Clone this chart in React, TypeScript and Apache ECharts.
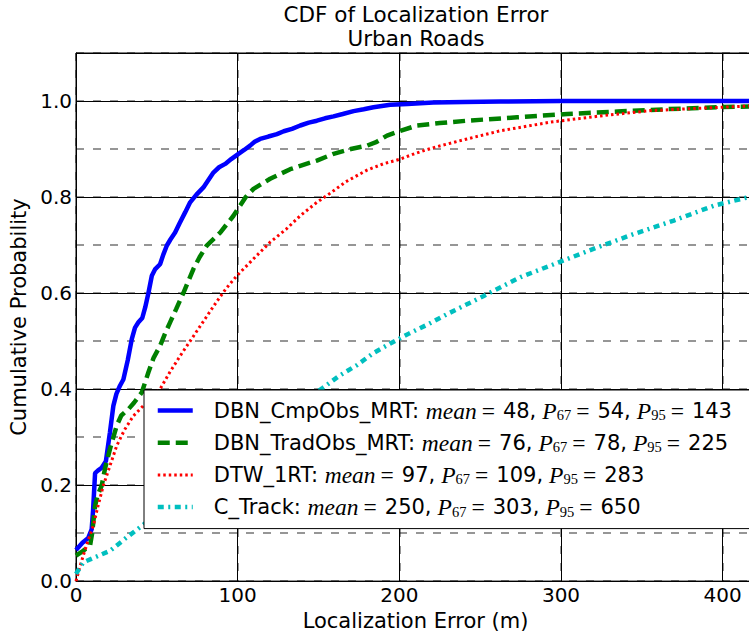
import React, { useEffect, useRef } from "react";
import * as echarts from "echarts";

// Summary statistics shown in the legend (metres)
const seriesNames = ["DBN_CmpObs_MRT", "DBN_TradObs_MRT", "DTW_1RT", "C_Track"];
const meanErr = [48, 76, 97, 250];
const p67Err = [54, 78, 109, 303];
const p95Err = [143, 225, 283, 650];

const xTickLabels = [0, 100, 200, 300, 400];
const yTickLabels = [0, 0.2, 0.4, 0.6, 0.8, 1.0];

// Empirical CDF samples: [error (m), cumulative probability]
const cmpObsMrt: [number, number][] = [
  [0, 0.065], [4, 0.08], [7.6, 0.09], [9.7, 0.108], [10.6, 0.15], [11.8, 0.225],
  [13.5, 0.23], [15.9, 0.236], [18.5, 0.25], [21, 0.31], [23.1, 0.365], [25, 0.39],
  [27.2, 0.407], [29.3, 0.42], [32, 0.46], [34.5, 0.504], [36.5, 0.528], [38.6, 0.539],
  [41, 0.548], [42.8, 0.57], [44.8, 0.6], [46.9, 0.636], [49, 0.65], [52, 0.66],
  [54, 0.68], [56.2, 0.699], [58.5, 0.712], [61.3, 0.726], [64, 0.745], [67.5, 0.768],
  [70.6, 0.789], [74.5, 0.805], [78.8, 0.82], [82, 0.836], [85, 0.851], [88.5, 0.862],
  [92.3, 0.869], [96, 0.879], [100.5, 0.89], [104, 0.898], [107.7, 0.907], [110.5, 0.915],
  [113.9, 0.921], [119, 0.926], [124.3, 0.931], [128.5, 0.937], [133.6, 0.942], [138.7, 0.949],
  [144, 0.955], [149, 0.959], [154, 0.964], [159.3, 0.968], [165, 0.973], [171.7, 0.979],
  [178, 0.983], [184, 0.987], [194.4, 0.992], [205, 0.994], [221, 0.997], [240, 0.998],
  [262.5, 0.999], [300, 1.0], [420, 1.0],
];

const tradObsMrt: [number, number][] = [
  [0, 0.053], [4, 0.062], [8.7, 0.074], [10, 0.1], [11.8, 0.157], [13.5, 0.18],
  [15.9, 0.199], [18, 0.235], [21, 0.275], [25.2, 0.324], [28, 0.345], [32.4, 0.358],
  [36, 0.372], [40.7, 0.393], [44.8, 0.435], [48, 0.465], [52, 0.49], [55, 0.515],
  [58.2, 0.539], [62, 0.567], [66.4, 0.6], [72.6, 0.65], [76.5, 0.675], [80.9, 0.699],
  [89.2, 0.726], [97.4, 0.761], [101.5, 0.782], [105, 0.8], [109.8, 0.817], [120.1, 0.838],
  [132.5, 0.858], [138.7, 0.865], [149, 0.876], [159.3, 0.89], [170, 0.9], [180, 0.907],
  [186, 0.915], [192.4, 0.928], [200.6, 0.938], [211, 0.949], [225, 0.954], [241.9, 0.959],
  [272.9, 0.966], [303.8, 0.973], [334.8, 0.978], [365.8, 0.983], [396.7, 0.987], [420, 0.989],
];

const dtw1rt: [number, number][] = [
  [0, 0.0], [2, 0.025], [4.5, 0.053], [7.5, 0.085], [10.7, 0.115], [13.5, 0.155],
  [16.9, 0.199], [21, 0.24], [25.2, 0.282], [30, 0.315], [35.5, 0.344], [43, 0.37],
  [52, 0.4], [58, 0.435], [64.4, 0.469], [70, 0.497], [75, 0.522], [80, 0.547],
  [87, 0.582], [93, 0.61], [99.5, 0.636], [110, 0.672], [120.1, 0.706], [130, 0.733],
  [138.7, 0.761], [149, 0.789], [155.2, 0.803], [167, 0.832], [180, 0.856], [190, 0.869],
  [200.6, 0.879], [210, 0.891], [221.2, 0.903], [241.9, 0.921], [262.5, 0.938], [293.5, 0.956],
  [324.5, 0.969], [355.4, 0.98], [386.4, 0.985], [420, 0.99],
];

const cTrack: [number, number][] = [
  [0, 0.015], [4.5, 0.039], [12, 0.05], [21, 0.063], [31.4, 0.091], [40.7, 0.115],
  [60, 0.165], [80, 0.218], [100, 0.27], [120, 0.322], [140, 0.372], [152.5, 0.402],
  [163, 0.428], [173.8, 0.45], [184, 0.475], [195, 0.496], [206.2, 0.516], [217.8, 0.535],
  [229.5, 0.556], [252.2, 0.594], [274.9, 0.633], [298.6, 0.664], [322.4, 0.695], [345.1, 0.723],
  [369.8, 0.751], [394.6, 0.782], [420, 0.803],
];

const FONT = "DejaVu Sans";
const MATH = "Liberation Serif";

export default function App() {
  const ref = useRef<HTMLDivElement>(null);

  useEffect(() => {
    const chart = echarts.init(ref.current!, undefined, { renderer: "svg" });

    const lineStyles = [
      { color: "#0000ff", width: 4.5, type: "solid" as any },
      { color: "#008000", width: 4.5, type: [12, 6] as any },
      { color: "#ff0000", width: 3, type: [2.5, 3] as any },
      { color: "#00bfbf", width: 4.5, type: [6, 4.5, 2, 4.5] as any },
    ];
    const datasets = [cmpObsMrt, tradObsMrt, dtw1rt, cTrack];

    const dashedGrid = {
      show: true,
      lineStyle: { color: "rgba(0,0,0,0.55)", width: 1.5, type: [8, 9] as any },
    };

    chart.setOption({
      animation: false,
      backgroundColor: "#ffffff",
      graphic: [
        {
          type: "text",
          x: 416,
          y: 3,
          style: {
            text: "CDF of Localization Error\nUrban Roads",
            font: `21.5px "${FONT}"`,
            fill: "#000",
            textAlign: "center",
            textVerticalAlign: "top",
            lineHeight: 23.5,
          },
        },
      ],
      grid: {
        left: 76,
        top: 53,
        width: 679,
        height: 529,
        show: true,
        borderColor: "#000",
        borderWidth: 1,
        backgroundColor: "transparent",
      },
      xAxis: [
        {
          type: "value",
          min: 0,
          max: 420,
          interval: 100,
          name: "Localization Error (m)",
          nameLocation: "middle",
          nameGap: 27,
          nameTextStyle: { fontFamily: FONT, fontSize: 21, color: "#000" },
          axisLine: { show: true, lineStyle: { color: "#000", width: 1 } },
          axisTick: { show: false },
          axisLabel: {
            fontFamily: FONT,
            fontSize: 20,
            color: "#000",
            margin: 4,
            formatter: (v: number) => (xTickLabels.includes(v) ? String(v) : ""),
          },
          splitLine: { show: true, lineStyle: { color: "#000", width: 1 } },
        },
        {
          type: "value",
          min: 0,
          max: 420,
          interval: 100,
          position: "bottom",
          axisLine: { show: false },
          axisTick: { show: false },
          axisLabel: { show: false },
          splitLine: dashedGrid,
        },
      ],
      yAxis: [
        {
          type: "value",
          min: 0,
          max: 1.1,
          interval: 0.2,
          name: "Cumulative Probability",
          nameLocation: "middle",
          nameGap: 44,
          nameTextStyle: { fontFamily: FONT, fontSize: 21, color: "#000" },
          axisLine: { show: true, lineStyle: { color: "#000", width: 1 } },
          axisTick: { show: false },
          axisLabel: {
            fontFamily: FONT,
            fontSize: 20,
            color: "#000",
            margin: 4,
            formatter: (v: number) =>
              yTickLabels.some((t) => Math.abs(t - v) < 1e-9) ? v.toFixed(1) : "",
          },
          splitLine: { show: true, lineStyle: { color: "#000", width: 1 } },
        },
        {
          type: "value",
          min: 0,
          max: 1.1,
          interval: 0.1,
          position: "left",
          axisLine: { show: false },
          axisTick: { show: false },
          axisLabel: { show: false },
          splitLine: dashedGrid,
        },
      ],
      legend: {
        orient: "vertical",
        left: 144,
        top: 390,
        z: 20,
        padding: [8.5, 60, 9.5, 11.5],
        itemGap: 8.2,
        itemWidth: 35,
        itemHeight: 14,
        backgroundColor: "#ffffff",
        borderColor: "#000",
        borderWidth: 1,
        borderRadius: 0,
        data: seriesNames.map((n, i) => ({
          name: n,
          itemStyle: { opacity: 0 },
          lineStyle: {
            width: lineStyles[i].width,
            type: lineStyles[i].type,
            color: lineStyles[i].color,
            cap: "butt",
          },
        })),
        textStyle: {
          fontFamily: FONT,
          fontSize: 21,
          color: "#000",
          rich: {
            n: { fontFamily: FONT, fontSize: 21, lineHeight: 24, padding: [0, 0, 0, 16] },
            t: { fontFamily: FONT, fontSize: 21, lineHeight: 24 },
            m: { fontFamily: MATH, fontStyle: "italic", fontSize: 23.5, lineHeight: 24 },
            p: {
              fontFamily: MATH,
              fontStyle: "italic",
              fontSize: 23.5,
              lineHeight: 24,
              padding: [0, 0, 0, 6],
            },
            e: { fontFamily: MATH, fontSize: 23.5, lineHeight: 24, padding: [0, 8, 0, 5] },
            s: { fontFamily: MATH, fontSize: 14.5, lineHeight: 10, verticalAlign: "bottom" },
          },
        },
        formatter: (name: string) => {
          const i = seriesNames.indexOf(name);
          return (
            `{n|${name}: }{m|mean}{e|=}{t|${meanErr[i]},}` +
            `{p|P}{s|67}{e|=}{t|${p67Err[i]},}` +
            `{p|P}{s|95}{e|=}{t|${p95Err[i]}}`
          );
        },
      },
      series: seriesNames.map((name, i) => ({
        name,
        type: "line",
        xAxisIndex: 0,
        yAxisIndex: 0,
        data: datasets[i],
        symbol: "none",
        smooth: false,
        lineStyle: { ...lineStyles[i], cap: "butt" },
        itemStyle: { color: lineStyles[i].color },
        color: lineStyles[i].color,
        z: 2,
      })),
    });

    return () => chart.dispose();
  }, []);

  return (
    <div
      style={{
        position: "fixed",
        left: 0,
        top: 0,
        width: 749,
        height: 636,
        overflow: "hidden",
        background: "#fff",
      }}
    >
      <div ref={ref} style={{ width: 760, height: 636 }} />
    </div>
  );
}
